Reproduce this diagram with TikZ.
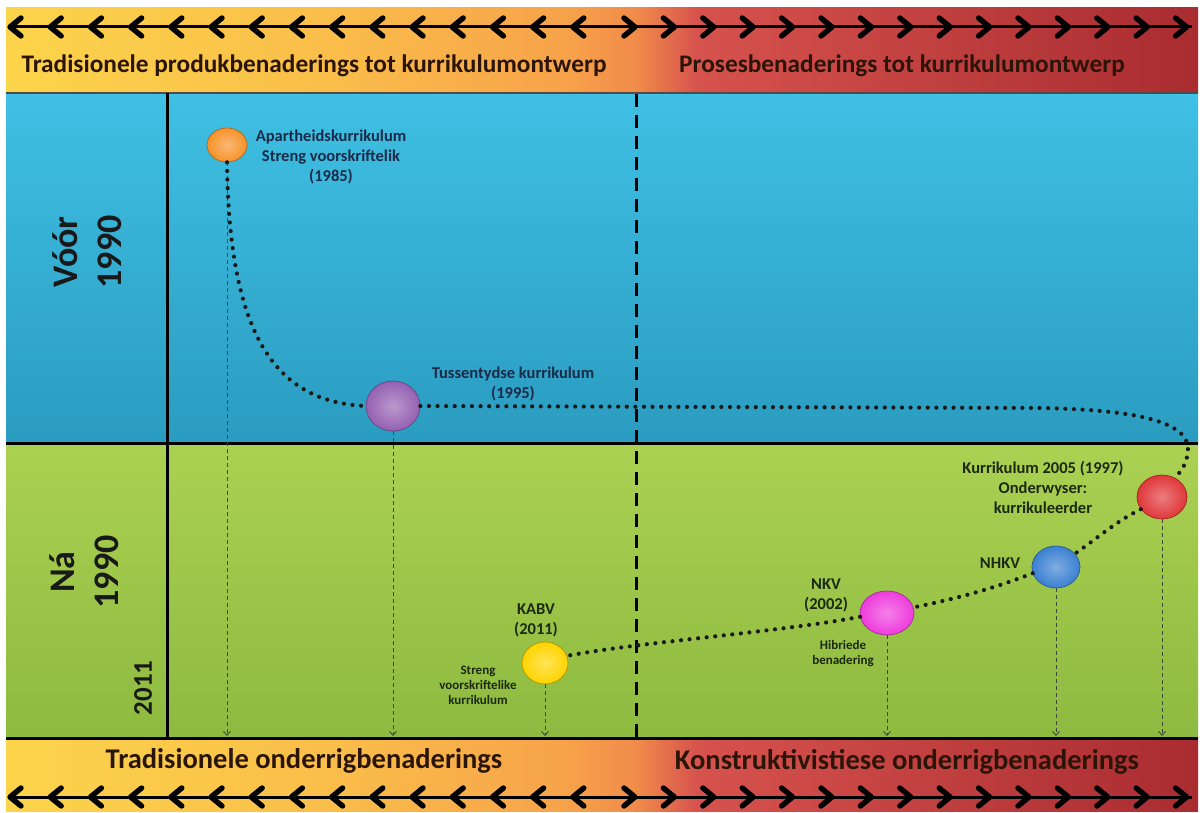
\documentclass[tikz,border=0pt]{standalone}
\usepackage{fontspec}
\setmainfont{Carlito}
\usetikzlibrary{shapes.geometric,arrows.meta}
\definecolor{bY}{HTML}{FCD44B}
\definecolor{bY2}{HTML}{FABF4A}
\definecolor{bO}{HTML}{F7A34A}
\definecolor{bO2}{HTML}{F08A4A}
\definecolor{bR}{HTML}{D6524D}
\definecolor{bR2}{HTML}{A92C31}
\definecolor{blueTop}{HTML}{3FC0E4}
\definecolor{blueBot}{HTML}{2A9CC0}
\definecolor{greenTop}{HTML}{ABD152}
\definecolor{greenBot}{HTML}{8DBA40}
\definecolor{navy}{HTML}{1B2A48}
\definecolor{dkgreen}{HTML}{1C2810}
\definecolor{bandtxt}{HTML}{2A1508}
\definecolor{cOrange}{HTML}{F7922A}
\definecolor{cPurple}{HTML}{9561B2}
\definecolor{cYellow}{HTML}{FFD400}
\definecolor{cMagenta}{HTML}{EE3CDC}
\definecolor{cBlue}{HTML}{3B80D2}
\definecolor{cRed}{HTML}{E0373A}
\definecolor{dropc}{HTML}{3A4A3A}
\pgfdeclarehorizontalshading{bandshade}{100bp}{color(0bp)=(bY); color(25bp)=(bY); color(38bp)=(bY2); color(48.5bp)=(bO); color(51.5bp)=(bO2); color(54bp)=(bR); color(75bp)=(bR2); color(100bp)=(bR2)}
\tikzset{
  chev/.style={line width=5.4pt, line cap=round, line join=round, black},
  shaft/.style={line width=3pt, black},
  bandtext/.style={font=\bfseries\fontsize{25.3}{30}\selectfont, text=bandtxt, inner sep=0pt},
  bandtextb/.style={font=\bfseries\fontsize{28.5}{33}\selectfont, text=bandtxt, inner sep=0pt},
  sidetext/.style={rotate=90, align=center, font=\bfseries\fontsize{36}{44}\selectfont, text=black!90, inner sep=0pt},
  bluelabel/.style={align=center, font=\bfseries\fontsize{16.5}{20}\selectfont, text=navy, inner sep=0pt},
  greenlabel/.style={align=center, font=\bfseries\fontsize{16.5}{20}\selectfont, text=dkgreen, inner sep=0pt},
  smalllabel/.style={align=center, font=\bfseries\fontsize{13}{15}\selectfont, text=dkgreen, inner sep=0pt},
  ball/.style={ellipse, inner sep=0pt, draw=#1!70!black, line width=0.7pt, inner color=#1!65!white, outer color=#1},
  dotline/.style={line width=4.2pt, line cap=round, dash pattern=on 0pt off 8.6pt, black!90},
  divider/.style={line width=3pt, black},
  dropline/.style={line width=0.9pt, dropc, dash pattern=on 4pt off 3pt, -{Straight Barb[length=4pt,width=7pt,line width=0.9pt]}},
}
\begin{document}
\begin{tikzpicture}[x=1pt,y=-1pt]
\useasboundingbox (0,0) rectangle (1203,813);
\fill[white] (0,0) rectangle (1203,813);
% bands and regions
\shade[shading=bandshade] (6,8) rectangle (1198,93);
\shade[shading=bandshade] (6,738) rectangle (1198,811);
\shade[top color=blueTop, bottom color=blueBot] (6,93) rectangle (1198,443);
\shade[top color=greenTop, bottom color=greenBot] (6,443) rectangle (1198,738);
\draw[line width=1.2pt, black!70] (6,93) -- (1198,93);
% dividers
\draw[divider] (6,443) -- (1198,443);
\draw[divider] (6,738) -- (1198,738);
\draw[divider] (167,93) -- (167,738);
\draw[divider, dash pattern=on 13pt off 8pt] (636,94) -- (636,738);
% top arrows
\draw[shaft] (10,27) -- (1192,27);
\foreach \k in {0,...,14} {
  \pgfmathsetmacro{\xa}{10+40.2*\k}
  \draw[chev] (\xa+11,18) -- (\xa,27) -- (\xa+11,36);
  \pgfmathsetmacro{\xb}{635+39.4*\k}
  \draw[chev] (\xb-11,18) -- (\xb,27) -- (\xb-11,36);
}
% bottom arrows
\draw[shaft] (10,797) -- (1192,797);
\foreach \k in {0,...,14} {
  \pgfmathsetmacro{\xa}{10+40.2*\k}
  \draw[chev] (\xa+11,788) -- (\xa,797) -- (\xa+11,806);
  \pgfmathsetmacro{\xb}{635+39.4*\k}
  \draw[chev] (\xb-11,788) -- (\xb,797) -- (\xb-11,806);
}
% band texts
\node[bandtext] (tl) at (314,66) {Tradisionele produkbenaderings tot kurrikulumontwerp};
\node[bandtext] (tr) at (902,66) {Prosesbenaderings tot kurrikulumontwerp};
\node[bandtextb] (bl) at (304,761) {Tradisionele onderrigbenaderings};
\node[bandtextb] (br) at (907,762) {Konstruktivistiese onderrigbenaderings};
% side texts
\node[sidetext] (voor) at (87,252) {Vóór\\1990};
\node[sidetext] (na) at (84,572) {Ná\\1990};
\node[rotate=90, font=\bfseries\fontsize{27}{30}\selectfont, text=black!90, inner sep=0pt] (y2011) at (143,688) {2011};
% balls
\node[ball=cOrange, minimum width=40pt, minimum height=34pt] (orange) at (227,145) {};
\node[ball=cPurple, minimum width=54pt, minimum height=50pt] (purple) at (393,406) {};
\node[ball=cYellow, minimum width=46pt, minimum height=42pt] (yellow) at (545,663) {};
\node[ball=cMagenta, minimum width=54pt, minimum height=44pt] (magenta) at (887,613) {};
\node[ball=cBlue, minimum width=48pt, minimum height=42pt] (blue) at (1056,567) {};
\node[ball=cRed, minimum width=50pt, minimum height=44pt] (red) at (1162,497) {};
% labels
\node[bluelabel] (lapart) at (331,157) {Apartheidskurrikulum\\Streng voorskriftelik\\(1985)};
\node[bluelabel] (ltuss) at (513,384) {Tussentydse kurrikulum\\(1995)};
\node[greenlabel] (lkabv) at (536,620) {KABV\\(2011)};
\node[smalllabel] (lstreng) at (478,685) {Streng\\voorskriftelike\\kurrikulum};
\node[greenlabel] (lnkv) at (826,595) {NKV\\(2002)};
\node[smalllabel] (lhib) at (843,654) {Hibriede\\benadering};
\node[greenlabel] (lnhkv) at (1000,563) {NHKV};
\node[greenlabel] (lk2005) at (1043,487) {Kurrikulum 2005 (1997)\\Onderwyser:\\kurrikuleerder};
% drop lines
\coordinate (base) at (0,736);
\foreach \n in {orange,purple,yellow,magenta,blue,red}
  \draw[dropline] (\n.south) -- (\n.south |- base);
% dotted path
\draw[dotline] (orange.south) .. controls (229,330) and (272,402) .. (purple.west);
\draw[dotline] (purple.east) -- (1040,408) .. controls (1150,410) and (1196,425) .. (1187,457) .. controls (1184,468) and (1180,474) .. (red.60);
\draw[dotline] (red.210) .. controls (1115,522) and (1095,540) .. (blue.35);
\draw[dotline] (blue.195) .. controls (990,590) and (950,600) .. (magenta.12);
\draw[dotline] (magenta.188) .. controls (780,632) and (640,642) .. (yellow.18);
\end{tikzpicture}
\end{document}
